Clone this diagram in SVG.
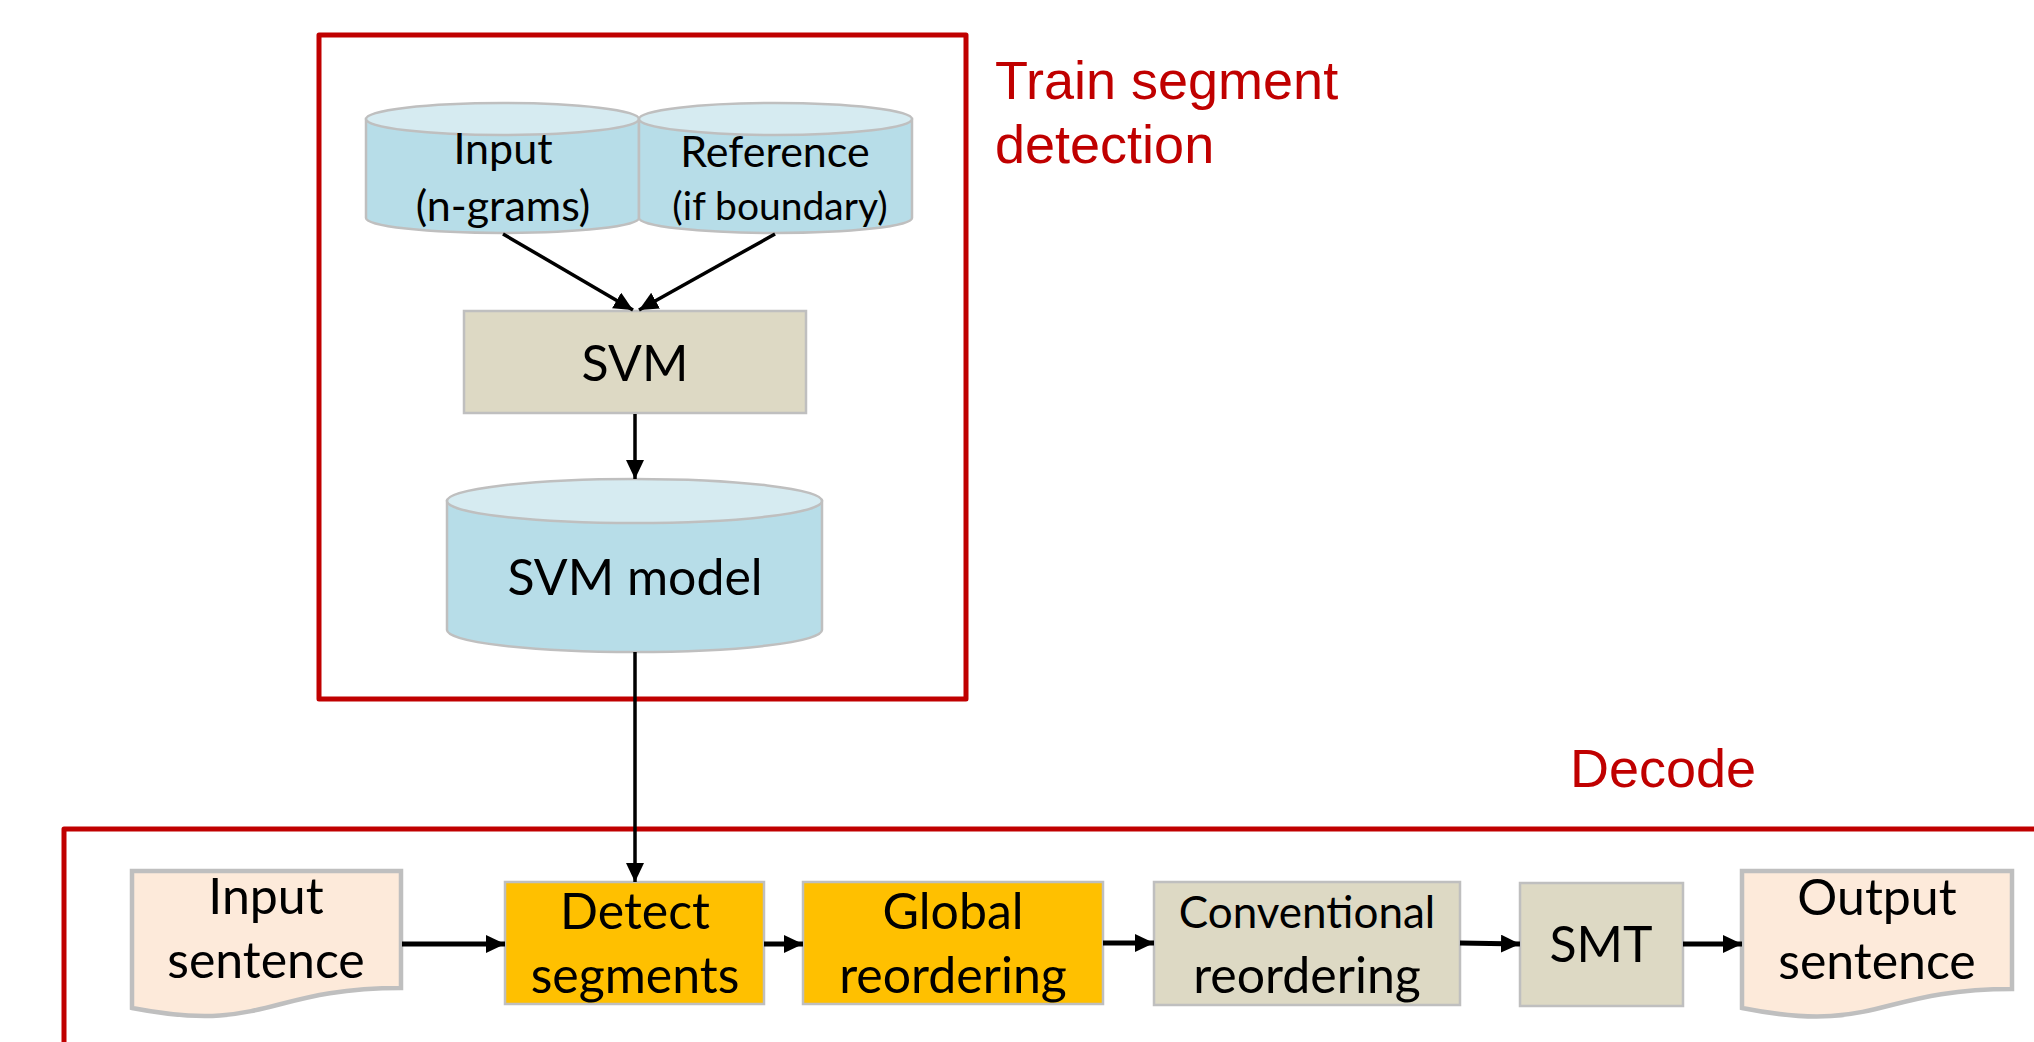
<svg xmlns="http://www.w3.org/2000/svg" width="2034" height="1042" viewBox="0 0 2034 1042">
<defs>
<style>
.frame{fill:none;stroke:#C00000;stroke-width:5;stroke-linejoin:round}
.title{font-family:"Liberation Sans",Arial,sans-serif;font-size:54px;fill:#C00000}
.lbl{font-family:Lato,"Open Sans",sans-serif;fill:#000;text-anchor:middle}
.cylBody{fill:#B7DDE8;stroke:#BFBFBF;stroke-width:2.5}
.cylTop{fill:#D6EBF1;stroke:#BFBFBF;stroke-width:2.5}
.proc{fill:#DDD9C4;stroke:#BFBFBF;stroke-width:2.5}
.hi{fill:#FFC000;stroke:#BFBFBF;stroke-width:2.5}
.doc{fill:#FDEADA;stroke:#BFBFBF;stroke-width:4.5}
.conn{fill:none;stroke:#000;stroke-width:3.5;marker-end:url(#ah)}
.conn2{fill:none;stroke:#000;stroke-width:5;marker-end:url(#ah)}
</style>
<marker id="ah" markerUnits="userSpaceOnUse" markerWidth="20" markerHeight="19" refX="19" refY="9" orient="auto">
<path d="M0,0 L19,9 L0,18 Z" fill="#000"/>
</marker>
</defs>

<g id="train-frame">
<rect class="frame" x="319" y="35" width="647" height="664"/>
<text class="title" x="995" y="99">Train segment</text>
<text class="title" x="995" y="163">detection</text>
</g>

<g id="decode-frame">
<path class="frame" d="M2045,829 H64 V1050"/>
<text class="title" x="1570" y="787">Decode</text>
</g>

<g id="input-ngrams">
<path class="cylBody" d="M366,119 V218 A136.5,15 0 0 0 639,218 V119 Z"/>
<ellipse class="cylTop" cx="502.5" cy="119" rx="136.5" ry="16"/>
<text class="lbl" x="503" y="164" font-size="43">Input</text>
<text class="lbl" x="503" y="221" font-size="43">(n-grams)</text>
</g>

<g id="reference">
<path class="cylBody" d="M639,119 V218 A136.5,15 0 0 0 912,218 V119 Z"/>
<ellipse class="cylTop" cx="775.5" cy="119" rx="136.5" ry="16"/>
<text class="lbl" x="775" y="167" font-size="43">Reference</text>
<text class="lbl" x="780" y="220" font-size="39">(if boundary)</text>
</g>

<g id="svm">
<rect class="proc" x="464" y="311" width="342" height="102"/>
<text class="lbl" x="635" y="381" font-size="50">SVM</text>
</g>

<g id="svm-model">
<path class="cylBody" d="M447,501 V630 A187.5,22 0 0 0 822,630 V501 Z"/>
<ellipse class="cylTop" cx="634.5" cy="501" rx="187.5" ry="22"/>
<text class="lbl" x="635" y="595" font-size="50">SVM model</text>
</g>

<g id="input-sentence">
<path class="doc" d="M132,871 H401 V988 C266,988 266,1034 132,1008 Z"/>
<text class="lbl" x="266" y="914" font-size="50">Input</text>
<text class="lbl" x="266" y="978" font-size="50">sentence</text>
</g>

<g id="detect-segments">
<rect class="hi" x="505" y="882" width="259" height="122"/>
<text class="lbl" x="635" y="929" font-size="50">Detect</text>
<text class="lbl" x="635" y="993" font-size="50">segments</text>
</g>

<g id="global-reordering">
<rect class="hi" x="803" y="882" width="300" height="122"/>
<text class="lbl" x="953" y="929" font-size="50">Global</text>
<text class="lbl" x="953" y="993" font-size="50">reordering</text>
</g>

<g id="conventional-reordering">
<rect class="proc" x="1154" y="882" width="306" height="123"/>
<text class="lbl" x="1307" y="928" font-size="44">Conventional</text>
<text class="lbl" x="1307" y="993" font-size="50">reordering</text>
</g>

<g id="smt">
<rect class="proc" x="1520" y="883" width="163" height="123"/>
<text class="lbl" x="1601" y="962" font-size="50">SMT</text>
</g>

<g id="output-sentence">
<path class="doc" d="M1742,871 H2012 V989 C1877,989 1877,1035 1742,1008 Z"/>
<text class="lbl" x="1877" y="915" font-size="50">Output</text>
<text class="lbl" x="1877" y="979" font-size="50">sentence</text>
</g>

<g id="connectors">
<line class="conn" x1="503" y1="234" x2="633" y2="310"/>
<line class="conn" x1="775" y1="234" x2="639" y2="310"/>
<line class="conn" x1="635" y1="414" x2="635" y2="479"/>
<line class="conn" x1="635" y1="652" x2="635" y2="882"/>
<line class="conn2" x1="402" y1="944" x2="505" y2="944"/>
<line class="conn2" x1="764" y1="944" x2="803" y2="944"/>
<line class="conn2" x1="1103" y1="943" x2="1154" y2="943"/>
<line class="conn2" x1="1460" y1="943" x2="1520" y2="944"/>
<line class="conn2" x1="1683" y1="944" x2="1742" y2="944"/>
</g>
</svg>
